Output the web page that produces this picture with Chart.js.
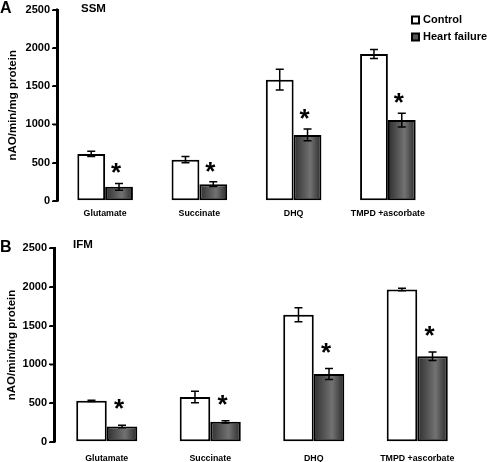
<!DOCTYPE html>
<html>
<head>
<meta charset="utf-8">
<script src="https://cdn.jsdelivr.net/npm/chart.js@4.4.1/dist/chart.umd.min.js"></script>
<style>
	body { margin: 0; background: #fff; }
	.panel { position: absolute; left: 0; }
</style>
</head>
<body>
<div class="panel" style="top: 0px;"><canvas id="plot-ssm" width="487" height="225"></canvas></div>
<div class="panel" style="top: 225px;"><canvas id="plot-ifm" width="487" height="237"></canvas></div>
<script>
	const categories = ['Glutamate', 'Succinate', 'DHQ', 'TMPD +ascorbate'];
	const yTicks = [0, 500, 1000, 1500, 2000, 2500];

	// SSM (panel A)
	const ssmControl = [615, 540, 1585, 1920];
	const ssmControlErr = [35, 40, 135, 58];
	const ssmFailure = [185, 220, 863, 1057];
	const ssmFailureErr = [45, 30, 77, 90];

	// IFM (panel B)
	const ifmControl = [530, 580, 1640, 1965];
	const ifmControlErr = [8, 75, 90, 15];
	const ifmFailure = [200, 260, 876, 1105];
	const ifmFailureErr = [15, 15, 70, 55];

	const FONT = "'Liberation Sans', Arial, sans-serif";
	const CAT_PCT = 0.59;

	// gray bar fill, dark edges, lighter near the middle
	function failureFill(c) {
		const xs = c.chart.scales.x;
		if (!xs || c.dataIndex === undefined) return '#555';
		const w = xs.width / categories.length * CAT_PCT / 2;
		const left = xs.getPixelForValue(c.dataIndex);
		if (!isFinite(w) || !isFinite(left) || w <= 0) return '#555';
		const g = c.chart.ctx.createLinearGradient(left, 0, left + w, 0);
		g.addColorStop(0, '#2e2e2e');
		g.addColorStop(0.6, '#727272');
		g.addColorStop(1, '#2a2a2a');
		return g;
	}

	// y axis line + tick marks (scale border did not show), error bars, stars
	const errorBars = {
		id: 'errorBars',
		afterDraw(chart, args, opts) {
			const ctx = chart.ctx;
			const y = chart.scales.y;
			const ax = chart.chartArea.left;
			ctx.save();
			ctx.strokeStyle = '#000';
			ctx.lineWidth = 2;
			ctx.beginPath();
			ctx.moveTo(ax - 1, y.getPixelForValue(2500) - 1);
			ctx.lineTo(ax - 1, y.getPixelForValue(0) + 1);
			ctx.stroke();
			ctx.lineWidth = 1.5;
			ctx.beginPath();
			yTicks.forEach(v => {
				const py = Math.round(y.getPixelForValue(v)) + 0.25;
				ctx.moveTo(ax - 6, py);
				ctx.lineTo(ax, py);
			});
			ctx.stroke();

			chart.data.datasets.forEach((ds, i) => {
				const meta = chart.getDatasetMeta(i);
				meta.data.forEach((el, j) => {
					const v = ds.data[j], e = ds.errors[j];
					const top = y.getPixelForValue(v + e);
					const bot = y.getPixelForValue(v - e);
					ctx.strokeStyle = '#000';
					ctx.lineWidth = 1.5;
					ctx.beginPath();
					ctx.moveTo(el.x, top); ctx.lineTo(el.x, bot);
					ctx.moveTo(el.x - 4, top); ctx.lineTo(el.x + 4, top);
					ctx.moveTo(el.x - 4, bot); ctx.lineTo(el.x + 4, bot);
					ctx.stroke();
					if (ds.star) {
						ctx.fillStyle = '#000';
						ctx.font = 'bold 26px ' + FONT;
						ctx.textAlign = 'center';
						ctx.textBaseline = 'alphabetic';
						const m = ctx.measureText('*');
						const cy = top - opts.starGap;
						const base = cy + (m.actualBoundingBoxAscent - m.actualBoundingBoxDescent) / 2;
						ctx.fillText('*', el.x - 3, base);
					}
				});
			});
			ctx.restore();
		}
	};

	// panel letter, subtitle and (optionally) legend
	const panelText = {
		id: 'panelText',
		afterDraw(chart, args, opts) {
			const ctx = chart.ctx;
			ctx.save();
			ctx.fillStyle = '#000';
			ctx.textBaseline = 'middle';
			ctx.textAlign = 'left';
			ctx.font = 'bold 16px ' + FONT;
			ctx.fillText(opts.letter, 0, opts.letterY);
			ctx.font = 'bold 11.5px ' + FONT;
			ctx.fillText(opts.name, opts.nameX, opts.nameY);
			if (opts.legend) {
				ctx.font = 'bold 11px ' + FONT;
				chart.data.datasets.forEach((ds, i) => {
					const cy = 20 + i * 17;
					ctx.fillStyle = i === 0 ? '#fff' : '#555';
					ctx.fillRect(412, cy - 3.5, 7, 7);
					ctx.strokeStyle = '#000';
					ctx.lineWidth = 2;
					ctx.strokeRect(412, cy - 3.5, 7, 7);
					ctx.fillStyle = '#000';
					ctx.fillText(ds.label, 423, cy);
				});
			}
			ctx.restore();
		}
	};

	function makePanel(id, control, controlErr, failure, failureErr, p) {
		return new Chart(document.getElementById(id), {
			type: 'bar',
			data: {
				labels: categories,
				datasets: [
					{
						label: 'Control',
						data: control,
						errors: controlErr,
						backgroundColor: '#fff',
						borderColor: '#000',
						borderWidth: 2,
						borderSkipped: false
					},
					{
						label: 'Heart failure',
						data: failure,
						errors: failureErr,
						star: true,
						backgroundColor: failureFill,
						borderColor: '#000',
						borderWidth: 2,
						borderSkipped: false
					}
				]
			},
			options: {
				responsive: false,
				animation: false,
				layout: { padding: { top: p.top, right: p.right, left: 0, bottom: 0 } },
				datasets: { bar: { barPercentage: 1, categoryPercentage: CAT_PCT } },
				scales: {
					x: {
						afterFit: s => { s.height = p.xHeight; },
						grid: { display: false, drawTicks: false },
						border: { display: false },
						ticks: {
							color: '#000',
							font: { family: FONT, size: 8.8, weight: 'bold' },
							padding: p.xPad,
							maxRotation: 0,
							autoSkip: false
						}
					},
					y: {
						min: 0,
						max: 2500,
						afterFit: s => { s.width = p.yWidth; },
						afterBuildTicks: s => { s.ticks = yTicks.map(v => ({ value: v })); },
						grid: { display: true, drawOnChartArea: false, drawTicks: true, tickLength: 5, color: '#000', lineWidth: 1.5 },
						border: { display: true, color: '#000', width: 2 },
						ticks: {
							color: '#000',
							padding: 3,
							font: { family: FONT, size: 11, weight: 'bold' },
							callback: v => String(v)
						},
						title: {
							display: true,
							text: 'nAO/min/mg protein',
							color: '#000',
							font: { family: FONT, size: 11.5, weight: 'bold' },
							padding: { top: p.titlePad, bottom: 0 }
						}
					}
				},
				plugins: {
					legend: { display: false },
					tooltip: { enabled: false },
					errorBars: { starGap: p.starGap },
					panelText: p.text
				}
			},
			plugins: [errorBars, panelText]
		});
	}

	const ssm = makePanel('plot-ssm', ssmControl, ssmControlErr, ssmFailure, ssmFailureErr, {
		top: 7, right: 52, xHeight: 24, yWidth: 58, xPad: 7, titlePad: 6, starGap: 15,
		text: { letter: 'A', letterY: 9, name: 'SSM', nameX: 81, nameY: 9, legend: true }
	});
	const ifm = makePanel('plot-ifm', ifmControl, ifmControlErr, ifmFailure, ifmFailureErr, {
		top: 23, right: 18, xHeight: 20, yWidth: 55, xPad: 11, titlePad: 5, starGap: 21,
		text: { letter: 'B', letterY: 23, name: 'IFM', nameX: 73, nameY: 20, legend: false }
	});
</script>
</body>
</html>
